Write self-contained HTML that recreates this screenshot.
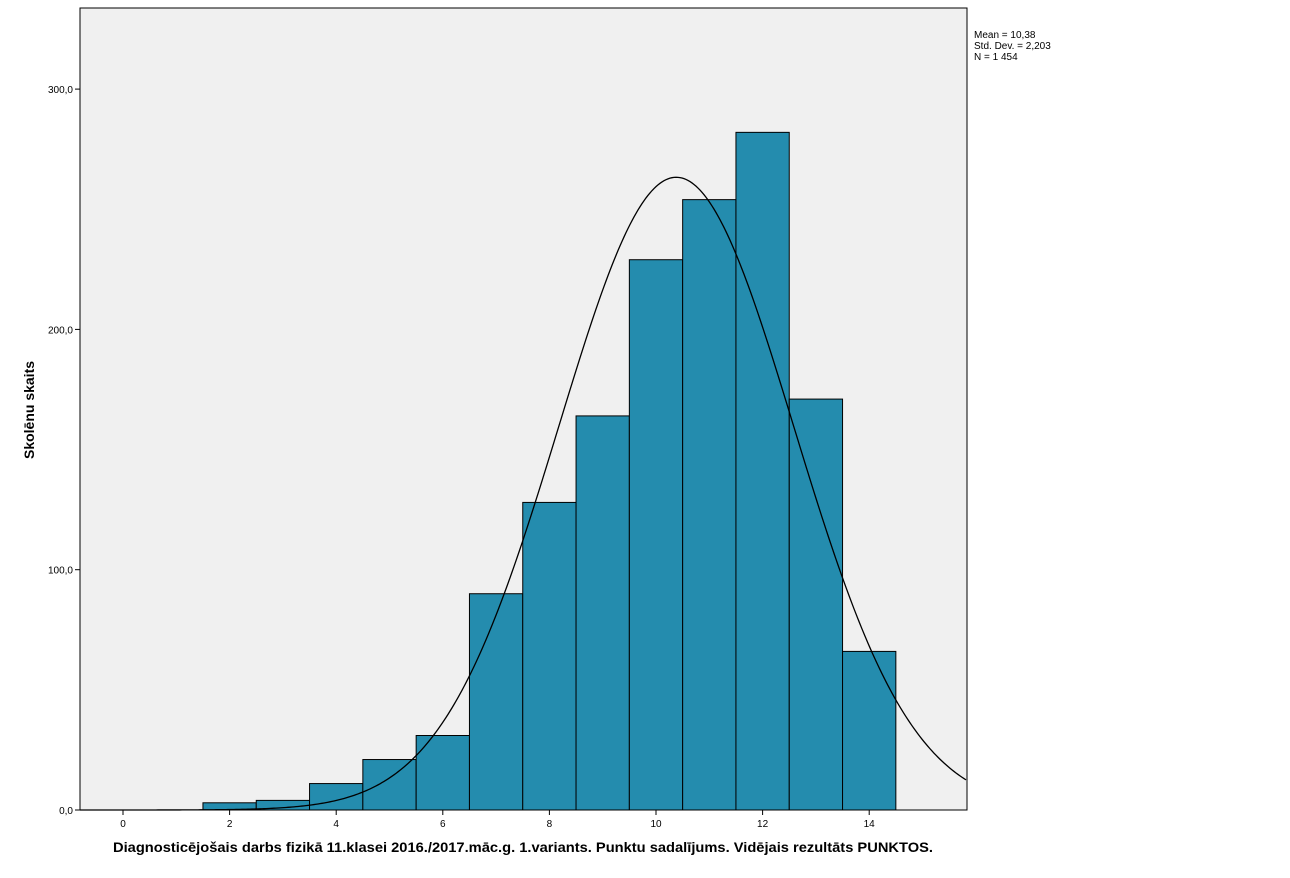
<!DOCTYPE html>
<html><head><meta charset="utf-8"><style>
body{margin:0;background:#fff;width:1290px;height:873px;overflow:hidden;font-family:"Liberation Sans",Arial,sans-serif}
</style></head><body>
<svg id="s" width="1290" height="873" xmlns="http://www.w3.org/2000/svg" font-family="Liberation Sans, Arial, sans-serif">
<rect x="80" y="8" width="887" height="802" fill="#f0f0f0"/>
<g id="bars" fill="#248cae" stroke="#000" stroke-width="1"></g>
<path id="curve" fill="none" stroke="#000" stroke-width="1.3"/>
<rect x="80" y="8" width="887" height="802" fill="none" stroke="#000" stroke-width="1"/>
<g id="ticks" stroke="#000" stroke-width="1"></g>
<g id="labels" font-size="10" fill="#000"></g>
<text x="974" y="38" font-size="10">Mean = 10,38</text>
<text x="974" y="49" font-size="10">Std. Dev. = 2,203</text>
<text x="974" y="60" font-size="10">N = 1 454</text>
<text x="113" y="852" font-size="14" font-weight="bold" textLength="820" lengthAdjust="spacingAndGlyphs">Diagnosticējošais darbs fizikā 11.klasei 2016./2017.māc.g. 1.variants. Punktu sadalījums. Vidējais rezultāts PUNKTOS.</text>
<text transform="translate(34,410) rotate(-90)" font-size="14" font-weight="bold" text-anchor="middle">Skolēnu skaits</text>
</svg>
<script>
var X=function(v){return 123+v*53.3},Y=function(c){return 810-c*2.403};
var d={2:3,3:4,4:11,5:21,6:31,7:90,8:128,9:164,10:229,11:254,12:282,13:171,14:66};
var ns="http://www.w3.org/2000/svg",b=document.getElementById('bars');
for(var k in d){var r=document.createElementNS(ns,'rect');var x0=X(+k-0.5),x1=X(+k+0.5);
r.setAttribute('x',x0);r.setAttribute('y',Y(d[k]));r.setAttribute('width',x1-x0);r.setAttribute('height',d[k]*2.403);b.appendChild(r);}
var p="";for(var px=80;px<=967;px+=2){var v=(px-123)/53.3,z=(v-10.38)/2.203,c=1454/(2.203*Math.sqrt(2*Math.PI))*Math.exp(-z*z/2);
p+=(p?"L":"M")+px+","+Y(c).toFixed(2);}
document.getElementById('curve').setAttribute('d',p);
var t=document.getElementById('ticks'),l=document.getElementById('labels'),h="",s="";
for(var i=0;i<=14;i+=2){h+='<line x1="'+X(i)+'" y1="810" x2="'+X(i)+'" y2="815"/>';s+='<text x="'+X(i)+'" y="827" text-anchor="middle">'+i+'</text>';}
for(var j=0;j<=300;j+=100){h+='<line x1="75" y1="'+Y(j)+'" x2="80" y2="'+Y(j)+'"/>';s+='<text x="73" y="'+(Y(j)+4)+'" text-anchor="end">'+j+',0</text>';}
t.innerHTML=h;l.innerHTML=s;
</script>
</body></html>
